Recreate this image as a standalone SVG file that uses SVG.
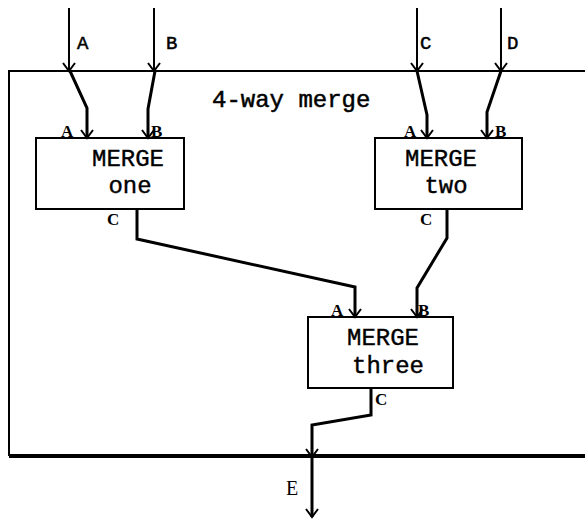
<svg xmlns="http://www.w3.org/2000/svg" width="585" height="522" viewBox="0 0 585 522">
  <defs>
    <marker id="vee" markerUnits="userSpaceOnUse" markerWidth="20" markerHeight="20" refX="0" refY="0" orient="auto" overflow="visible">
      <path d="M-8,-6 L0,0 L-8,6" fill="none" stroke="#000" stroke-width="2"/>
    </marker>
    <style>
      .frame { fill: none; stroke: #000; stroke-width: 2; }
      .box { fill: #fff; stroke: #000; stroke-width: 2; }
      .ext { fill: none; stroke: #000; stroke-width: 2; marker-end: url(#vee); }
      .wire { fill: none; stroke: #000; stroke-width: 3; stroke-linejoin: miter; marker-end: url(#vee); }
      .title { font-family: "Liberation Mono", "Courier New", monospace; font-size: 24px; fill: #000; stroke: #000; stroke-width: 0.5px; }
      .name { font-family: "Liberation Mono", "Courier New", monospace; font-size: 24px; fill: #000; stroke: #000; stroke-width: 0.4px; text-anchor: middle; }
      .port { font-family: "Liberation Serif", "Times New Roman", serif; font-size: 17px; font-weight: bold; fill: #000; }
      .pin { font-family: "Liberation Mono", "Courier New", monospace; font-size: 19px; fill: #000; stroke: #000; stroke-width: 0.5px; }
      .out { font-family: "Liberation Serif", "Times New Roman", serif; font-size: 20px; fill: #000; }
    </style>
  </defs>

  <!-- enclosing 4-way merge block -->
  <g id="merge4">
    <path class="frame" d="M9,456 V71 H585"/>
    <path d="M9,456 H585" fill="none" stroke="#000" stroke-width="4"/>
    <text class="title" x="212" y="107">4-way merge</text>
  </g>

  <g id="merge-one">
    <rect class="box" x="36" y="138" width="148" height="71"/>
    <text class="name" x="128" y="166">MERGE</text>
    <text class="name" x="130" y="193">one</text>
    <text class="port" x="61" y="137">A</text>
    <text class="port" x="151" y="137">B</text>
    <text class="port" x="107" y="225">C</text>
  </g>

  <g id="merge-two">
    <rect class="box" x="375" y="138" width="147" height="71"/>
    <text class="name" x="441" y="166">MERGE</text>
    <text class="name" x="446" y="193">two</text>
    <text class="port" x="404" y="137">A</text>
    <text class="port" x="495" y="137">B</text>
    <text class="port" x="420" y="225">C</text>
  </g>

  <g id="merge-three">
    <rect class="box" x="308" y="317" width="145" height="71"/>
    <text class="name" x="383" y="345">MERGE</text>
    <text class="name" x="388" y="373">three</text>
    <text class="port" x="331" y="316">A</text>
    <text class="port" x="418" y="316">B</text>
    <text class="port" x="375" y="405">C</text>
  </g>

  <g id="connectors">
    <!-- external inputs -->
    <path class="ext" d="M69,8 V71"/>
    <path class="ext" d="M154,8 V71"/>
    <path class="ext" d="M417,8 V71"/>
    <path class="ext" d="M501,8 V71"/>
    <text class="pin" x="77" y="49">A</text>
    <text class="pin" x="166" y="49">B</text>
    <text class="pin" x="420" y="49">C</text>
    <text class="pin" x="507" y="49">D</text>

    <!-- into the first-stage merges -->
    <path class="wire" d="M70,71 L87,108 V138"/>
    <path class="wire" d="M155,71 L148,109 V138"/>
    <path class="wire" d="M417,71 L427,115 V138"/>
    <path class="wire" d="M501,71 L487,112 V138"/>

    <!-- first stage to second stage -->
    <path class="wire" d="M137,209 V239 L355,287 V317"/>
    <path class="wire" d="M447,209 V238 L417,288 V317"/>

    <!-- result out -->
    <path class="wire" d="M371,388 V415 L312,425 V457"/>
    <path class="wire" d="M312,457 V517"/>
    <text class="out" x="286" y="495">E</text>
  </g>
</svg>
